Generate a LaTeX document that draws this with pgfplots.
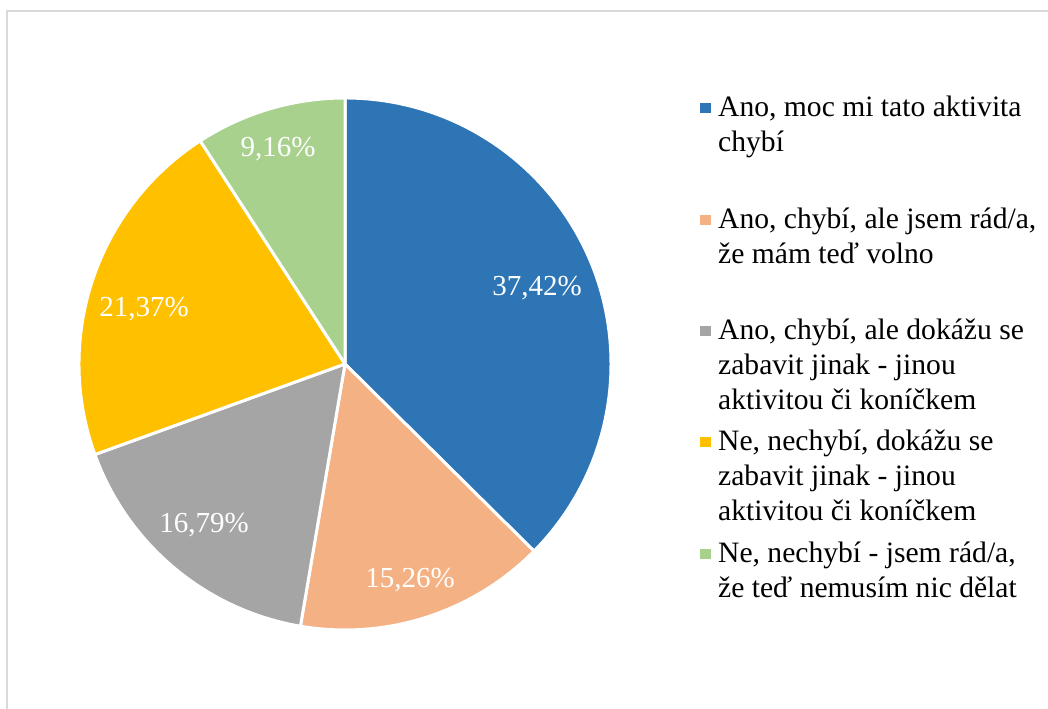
\documentclass[border=0pt]{standalone}
\usepackage{pgfplots}
\pgfplotsset{compat=1.18}
\usepackage{pgfplotstable}
\usepackage{fontspec}
\setmainfont{Liberation Serif}
\definecolor{cblue}{HTML}{2E75B6}
\definecolor{corange}{HTML}{F4B183}
\definecolor{cgray}{HTML}{A5A5A5}
\definecolor{cyellow}{HTML}{FFC000}
\definecolor{cgreen}{HTML}{A9D18E}
\definecolor{cframe}{HTML}{D9D9D9}
% shares in percent
\pgfplotstableread{
share
37.42
15.26
16.79
21.37
9.16
}\piedata
\begin{document}
\begin{tikzpicture}[x=1bp,y=1bp]
\useasboundingbox (0,0) rectangle (1048,709);
\fill[white] (0,0) rectangle (1048,709);
\draw[cframe, line width=1.6bp] (7,0) -- (7,698) -- (1048,698);
\pgfplotstablegetelem{0}{share}\of\piedata \edef\sA{\pgfplotsretval}
\pgfplotstablegetelem{1}{share}\of\piedata \edef\sB{\pgfplotsretval}
\pgfplotstablegetelem{2}{share}\of\piedata \edef\sC{\pgfplotsretval}
\pgfplotstablegetelem{3}{share}\of\piedata \edef\sD{\pgfplotsretval}
\pgfplotstablegetelem{4}{share}\of\piedata \edef\sE{\pgfplotsretval}
\pgfmathsetmacro\aA{90}
\pgfmathsetmacro\aB{\aA-3.6*\sA}
\pgfmathsetmacro\aC{\aB-3.6*\sB}
\pgfmathsetmacro\aD{\aC-3.6*\sC}
\pgfmathsetmacro\aE{\aD-3.6*\sD}
\pgfmathsetmacro\aF{\aE-3.6*\sE}
\begin{axis}[at={(0,0)}, anchor=south west, scale only axis,
  width=1048bp, height=709bp, xmin=0, xmax=1048, ymin=0, ymax=709,
  hide axis, clip=false]
\newcommand\slice[3]{%
  \filldraw[#1, draw=white, line width=3bp, line join=round]
   (axis cs:345,345) -- ([shift={(#2:266bp)}]axis cs:345,345)
   arc[start angle=#2, end angle=#3, radius=266bp] -- cycle;}
\slice{cblue}{\aA}{\aB}
\slice{corange}{\aB}{\aC}
\slice{cgray}{\aC}{\aD}
\slice{cyellow}{\aD}{\aE}
\slice{cgreen}{\aE}{\aF}
\tikzset{pl/.style={anchor=base, inner sep=0, text=white, font=\fontsize{29bp}{35bp}\selectfont}}
\node[pl] at (axis cs:537,413) {37,42\%};
\node[pl] at (axis cs:410,121) {15,26\%};
\node[pl] at (axis cs:204,176) {16,79\%};
\node[pl] at (axis cs:144,392) {21,37\%};
\node[pl] at (axis cs:278,552) {9,16\%};
\tikzset{lg/.style={anchor=base west, inner sep=0, text=black, font=\fontsize{29.6bp}{35bp}\selectfont}}
\fill[cblue]   (axis cs:700,595.75) rectangle (axis cs:710.5,606.25);
\fill[corange] (axis cs:700,483.75) rectangle (axis cs:710.5,494.25);
\fill[cgray]   (axis cs:700,372.75) rectangle (axis cs:710.5,383.25);
\fill[cyellow] (axis cs:700,261.75) rectangle (axis cs:710.5,272.25);
\fill[cgreen]  (axis cs:700,149.75) rectangle (axis cs:710.5,160.25);
\node[lg] at (axis cs:718,592) {Ano, moc mi tato aktivita};
\node[lg] at (axis cs:718,557) {chybí};
\node[lg] at (axis cs:718,480) {Ano, chybí, ale jsem rád/a,};
\node[lg] at (axis cs:718,445) {že mám teď volno};
\node[lg] at (axis cs:718,369) {Ano, chybí, ale dokážu se};
\node[lg] at (axis cs:718,334) {zabavit jinak - jinou};
\node[lg] at (axis cs:718,299) {aktivitou či koníčkem};
\node[lg] at (axis cs:718,258) {Ne, nechybí, dokážu se};
\node[lg] at (axis cs:718,223) {zabavit jinak - jinou};
\node[lg] at (axis cs:718,188) {aktivitou či koníčkem};
\node[lg] at (axis cs:718,146) {Ne, nechybí - jsem rád/a,};
\node[lg] at (axis cs:718,111) {že teď nemusím nic dělat};
\end{axis}
\end{tikzpicture}
\end{document}
